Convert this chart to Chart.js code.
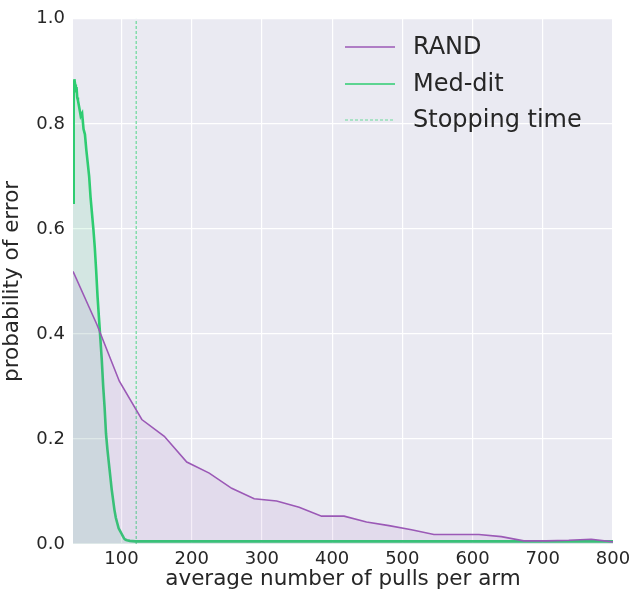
<!DOCTYPE html>
<html>
<head>
<meta charset="utf-8">
<script src="https://cdn.jsdelivr.net/npm/chart.js@4.4.0/dist/chart.umd.min.js"></script>
<style>
	html, body { margin: 0; padding: 0; background: #ffffff; }
	#wrap { width: 631px; height: 592px; }
</style>
</head>
<body>
<div id="wrap"><canvas id="chart-error"></canvas></div>
<script>
// RAND: probability of error per average pulls
var randX = [31, 65, 97, 129, 161, 193, 225, 257, 289, 321, 353, 385, 417, 449, 481, 513, 545, 577, 609, 641, 673, 705, 737, 769, 800];
var randY = [0.519, 0.418, 0.31, 0.237, 0.205, 0.156, 0.135, 0.106, 0.086, 0.082, 0.07, 0.053, 0.053, 0.042, 0.035, 0.027, 0.018, 0.018, 0.018, 0.014, 0.006, 0.006, 0.007, 0.009, 0.004];

// Med-dit
var meddX = [31, 32, 33, 34, 35, 36, 37, 38, 40, 42, 44, 46, 48, 50, 52, 54, 56, 58, 60, 62, 64, 66, 68, 70, 72, 74, 76, 78, 80, 82, 84, 86, 88, 90, 92, 94, 96, 98, 100, 102, 104, 106, 108, 112, 120, 800];
var meddY = [0.65, 0.86, 0.885, 0.875, 0.86, 0.87, 0.85, 0.845, 0.83, 0.815, 0.82, 0.79, 0.78, 0.75, 0.725, 0.70, 0.66, 0.63, 0.60, 0.565, 0.52, 0.47, 0.43, 0.39, 0.35, 0.30, 0.26, 0.21, 0.18, 0.155, 0.13, 0.105, 0.085, 0.065, 0.05, 0.04, 0.03, 0.025, 0.02, 0.015, 0.01, 0.008, 0.007, 0.006, 0.005, 0.005];

var stoppingTime = 121;
var xTicks = [100, 200, 300, 400, 500, 600, 700, 800];
var yTicks = [0, 0.2, 0.4, 0.6, 0.8, 1.0];
var seriesNames = ["RAND", "Med-dit", "Stopping time"];

function toPoints(xs, ys)
{
	var pts = [];
	for (var i = 0; i < xs.length; i++)
	{
		pts.push({ x: xs[i], y: ys[i] });
	}
	return pts;
}

var plotBackground = {
	id: "plotBackground",
	beforeDraw: function(chart)
	{
		var a = chart.chartArea;
		var ctx = chart.ctx;
		ctx.save();
		ctx.fillStyle = "#eaeaf2";
		ctx.fillRect(a.left, a.top, a.right - a.left, a.bottom - a.top);
		ctx.restore();
	}
};

var innerLegend = {
	id: "innerLegend",
	afterDraw: function(chart)
	{
		var ctx = chart.ctx;
		var colors = ["#9b59b6", "#2ecc71", "#6ad99a"];
		var dashes = [[], [], [3, 2]];
		var rowsY = [47, 84, 120];
		ctx.save();
		for (var i = 0; i < seriesNames.length; i++)
		{
			ctx.beginPath();
			ctx.strokeStyle = colors[i];
			ctx.lineWidth = i == 2 ? 1.2 : 1.6;
			ctx.setLineDash(dashes[i]);
			ctx.moveTo(345, rowsY[i]);
			ctx.lineTo(395, rowsY[i]);
			ctx.stroke();
			ctx.fillStyle = "#262626";
			ctx.font = "24px 'DejaVu Sans'";
			ctx.textBaseline = "middle";
			ctx.fillText(seriesNames[i], 413, rowsY[i] + 1);
		}
		ctx.restore();
	}
};

new Chart("chart-error", {
	type: "line",
	data: {
		datasets: [
			{
				label: seriesNames[0],
				data: toPoints(randX, randY),
				borderColor: "#9b59b6",
				backgroundColor: "rgba(155, 89, 182, 0.1)",
				borderWidth: 1.6,
				fill: "origin",
				pointRadius: 0,
				tension: 0
			},
			{
				label: seriesNames[1],
				data: toPoints(meddX, meddY),
				borderColor: "#2ecc71",
				backgroundColor: "rgba(46, 204, 113, 0.12)",
				borderWidth: 2.6,
				fill: "origin",
				pointRadius: 0,
				tension: 0
			},
			{
				label: seriesNames[2],
				data: toPoints([stoppingTime, stoppingTime], [0, 1]),
				borderColor: "#6ad99a",
				borderWidth: 1.2,
				borderDash: [3, 2],
				fill: false,
				pointRadius: 0
			}
		]
	},
	options: {
		responsive: true,
		maintainAspectRatio: false,
		animation: false,
		layout: { padding: { top: 16, right: 18, left: 0, bottom: 0 } },
		plugins: {
			legend: { display: false },
			tooltip: { enabled: false }
		},
		scales: {
			x: {
				type: "linear",
				min: 31,
				max: 800,
				afterBuildTicks: function(scale)
				{
					scale.ticks = xTicks.map(function(v) { return { value: v }; });
				},
				afterFit: function(scale)
				{
					scale.height = 48;
					scale.paddingRight = 0;
				},
				grid: { color: "#ffffff", lineWidth: 1.2, drawTicks: false },
				border: { display: false },
				ticks: {
					color: "#262626",
					font: { family: "DejaVu Sans", size: 18 },
					padding: 5,
					maxRotation: 0
				},
				title: {
					display: true,
					text: "average number of pulls per arm",
					color: "#262626",
					font: { family: "DejaVu Sans", size: 21.5 },
					padding: { top: 0, bottom: 0 }
				}
			},
			y: {
				min: 0,
				max: 1,
				afterBuildTicks: function(scale)
				{
					scale.ticks = yTicks.map(function(v) { return { value: v }; });
				},
				afterFit: function(scale) { scale.width = 73; },
				grid: { color: "#ffffff", lineWidth: 1.2, drawTicks: false },
				border: { display: false },
				ticks: {
					color: "#262626",
					font: { family: "DejaVu Sans", size: 18 },
					padding: 8,
					callback: function(v) { return v.toFixed(1); }
				},
				title: {
					display: true,
					text: "probability of error",
					color: "#262626",
					font: { family: "DejaVu Sans", size: 21.5 },
					padding: { top: 0, bottom: 0 }
				}
			}
		}
	},
	plugins: [plotBackground, innerLegend]
});
</script>
</body>
</html>
